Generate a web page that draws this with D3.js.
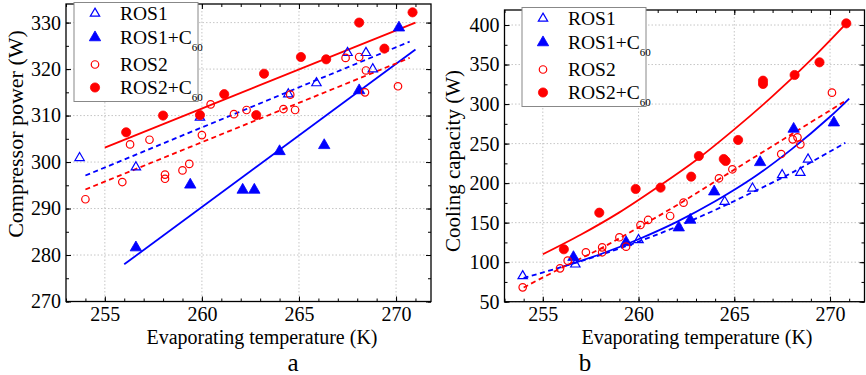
<!DOCTYPE html>
<html>
<head>
<meta charset="utf-8">
<script src="https://cdn.jsdelivr.net/npm/d3@7"></script>
<style>
  body { margin: 0; background: #fff; }
  svg text { font-family: "Liberation Serif", "Times New Roman", Times, "DejaVu Serif", serif !important; }
</style>
</head>
<body>
<svg id="chart" width="866" height="375"></svg>
<script>
// data, [temperature K, value W]

const tempTicks = [255, 260, 265, 270]
const powerTicks = [270, 280, 290, 300, 310, 320, 330]
const capacityTicks = [50, 100, 150, 200, 250, 300, 350, 400]

// panel a - compressor power
const powerRos1 = [[253.7, 300.9], [256.6, 298.9], [259.9, 309.6], [264.45, 314.6], [265.9, 317], [267.5, 323.5], [268.45, 323.5], [268.8, 320]]
const powerRos1C = [[256.6, 281.6], [259.4, 295.1], [262.1, 294], [262.7, 294], [264, 302.3], [266.3, 303.6], [268.1, 315.4], [270.15, 328.9]]
const powerRos2 = [[254, 292], [255.9, 295.7], [256.3, 303.8], [257.3, 304.8], [258.1, 297.3], [258.1, 296.4], [259, 298.2], [259.35, 299.6], [260, 305.8], [260.45, 312.4], [261.65, 310.3], [262.3, 311.2], [264.2, 311.4], [264.55, 314.5], [264.8, 311.2], [267.4, 322.4], [268.1, 322.6], [268.4, 315], [268.45, 319.7], [270.1, 316.3]]
const powerRos2C = [[256.1, 306.4], [258, 310], [259.9, 310.1], [261.15, 314.6], [262.8, 310.1], [263.2, 319], [265.1, 322.6], [266.4, 322.1], [268.1, 330], [269.4, 324.4], [270.85, 332.2]]

const powerFitRos1 = [[254, 297.1], [270.7, 325.9]]
const powerFitRos1C = [[256, 278], [271, 324.2]]
const powerFitRos2 = [[254, 294.1], [270.7, 322.4]]
const powerFitRos2C = [[255, 303.1], [271, 330]]

// panel b - cooling capacity
const capRos1 = [[253.95, 82.5], [256.7, 97.3], [260, 128.1], [264.5, 176.6], [265.95, 193.4], [267.5, 210.3], [268.45, 213.2], [268.85, 230.1]]
const capRos1C = [[256.6, 106.2], [259.35, 125.1], [262.1, 143.7], [262.7, 153.4], [263.95, 189.2], [266.35, 226.3], [268.1, 268.5], [270.2, 276.5]]
const capRos2 = [[253.95, 68.2], [255.9, 92.2], [256.3, 101.9], [257.25, 112.5], [258.1, 118.8], [258.1, 112.5], [259, 131.5], [259.35, 119.6], [260.1, 147], [260.5, 153.4], [261.65, 158.4], [262.35, 175.3], [264.2, 206.1], [264.9, 217.5], [267.45, 236.8], [268.05, 255.4], [268.3, 257.9], [268.45, 249.1], [270.1, 314.4]]
const capRos2C = [[256.1, 116.3], [257.95, 162.6], [259.85, 192.6], [261.15, 194.3], [262.75, 208.2], [263.15, 234.3], [264.45, 230.5], [264.55, 228], [265.2, 254.6], [266.5, 329.6], [266.5, 325.4], [268.15, 336.8], [269.45, 352.8], [270.85, 402.1]]

const capFitRos1 = [[254, 80], [256, 94], [258, 109], [260, 126], [262, 145], [264, 166], [266, 189], [268, 213], [270, 240], [270.8, 251]]
const capFitRos1C = [[256, 94], [258, 110], [260, 129], [262, 151], [264, 177], [266, 207], [268, 243], [270, 284], [271, 307]]
const capFitRos2 = [[254, 68], [256, 93], [258, 117], [260, 144], [262, 172], [264, 202], [266, 232], [268, 262], [270, 292], [270.8, 304]]
const capFitRos2C = [[255, 110], [257, 135], [259, 163], [261, 195], [263, 229], [265, 268], [267, 310], [269, 356], [271, 406]]

const seriesNames = ['ROS1', 'ROS1+C', 'ROS2', 'ROS2+C']

const BLUE = '#0000ff'
const RED = '#ff0000'
const SERIF = '"Liberation Serif", "Times New Roman", Times, "DejaVu Serif", serif'

// marker look per series: open/filled triangle, open/filled circle
const styles = [
  { color: BLUE, type: d3.symbolTriangle, size: 38, filled: false, dash: '5,3.5', sub: false },
  { color: BLUE, type: d3.symbolTriangle, size: 56, filled: true, dash: null, sub: true },
  { color: RED, type: d3.symbolCircle, size: 44, filled: false, dash: '5,3.5', sub: false },
  { color: RED, type: d3.symbolCircle, size: 66, filled: true, dash: null, sub: true },
]

const svg = d3.select('#chart')

function drawPanel(p) {
  const x = d3.scaleLinear().domain([253, 271.8]).range([p.left, p.right])
  const y = d3.scaleLinear().domain(p.yDomain).range([p.bottom, p.top])
  const w = p.right - p.left
  const h = p.bottom - p.top

  const g = svg.append('g')

  // dotted grid
  g.append('g')
    .selectAll('line')
    .data(tempTicks)
    .join('line')
    .attr('x1', d => x(d)).attr('x2', d => x(d))
    .attr('y1', p.top).attr('y2', p.bottom)
    .attr('stroke', '#b8b8b8').attr('stroke-width', 0.8).attr('stroke-dasharray', '1.5,2')
  g.append('g')
    .selectAll('line')
    .data(p.yTicks)
    .join('line')
    .attr('x1', p.left).attr('x2', p.right)
    .attr('y1', d => y(d)).attr('y2', d => y(d))
    .attr('stroke', '#b8b8b8').attr('stroke-width', 0.8).attr('stroke-dasharray', '1.5,2')

  // fit lines
  const line = d3.line().x(d => x(d[0])).y(d => y(d[1])).curve(d3.curveCatmullRom)
  p.fits.forEach((f, i) => {
    g.append('path')
      .attr('d', line(f))
      .attr('fill', 'none')
      .attr('stroke', styles[i].color)
      .attr('stroke-width', 1.8)
      .attr('stroke-dasharray', styles[i].dash)
  })

  // markers
  p.series.forEach((s, i) => {
    const st = styles[i]
    g.append('g')
      .selectAll('path')
      .data(s)
      .join('path')
      .attr('transform', d => `translate(${x(d[0])},${y(d[1])})`)
      .attr('d', d3.symbol().type(st.type).size(st.size))
      .attr('fill', st.filled ? st.color : 'none')
      .attr('stroke', st.color)
      .attr('stroke-width', st.filled ? 0.8 : 1.2)
  })

  // axes, ticks pointing inward
  const minorX = d3.range(253, 272, 1)
  const minorY = d3.range(p.yDomain[0], p.yDomain[1], p.minorStep)

  const axisStyle = sel => {
    sel.attr('font-family', SERIF)
    sel.select('.domain').remove()
    sel.selectAll('line').attr('stroke', '#000').attr('stroke-width', 1)
    sel.selectAll('text').style('font-family', SERIF).attr('font-size', 20).attr('fill', '#000')
  }

  g.append('g').attr('transform', `translate(0,${p.bottom})`)
    .call(d3.axisBottom(x).tickValues(tempTicks).tickSize(-5).tickPadding(5).tickFormat(d3.format('d')))
    .call(axisStyle)
  g.append('g').attr('transform', `translate(0,${p.bottom})`)
    .call(d3.axisBottom(x).tickValues(minorX).tickSize(-3).tickFormat(''))
    .call(axisStyle)
  g.append('g').attr('transform', `translate(0,${p.top})`)
    .call(d3.axisTop(x).tickValues(tempTicks).tickSize(-5).tickFormat(''))
    .call(axisStyle)
  g.append('g').attr('transform', `translate(0,${p.top})`)
    .call(d3.axisTop(x).tickValues(minorX).tickSize(-3).tickFormat(''))
    .call(axisStyle)

  g.append('g').attr('transform', `translate(${p.left},0)`)
    .call(d3.axisLeft(y).tickValues(p.yTicks).tickSize(-5).tickPadding(5).tickFormat(d3.format('d')))
    .call(axisStyle)
  g.append('g').attr('transform', `translate(${p.left},0)`)
    .call(d3.axisLeft(y).tickValues(minorY).tickSize(-3).tickFormat(''))
    .call(axisStyle)
  g.append('g').attr('transform', `translate(${p.right},0)`)
    .call(d3.axisRight(y).tickValues(p.yTicks).tickSize(-5).tickFormat(''))
    .call(axisStyle)
  g.append('g').attr('transform', `translate(${p.right},0)`)
    .call(d3.axisRight(y).tickValues(minorY).tickSize(-3).tickFormat(''))
    .call(axisStyle)

  // frame
  g.append('rect')
    .attr('x', p.left).attr('y', p.top)
    .attr('width', w).attr('height', h)
    .attr('fill', 'none').attr('stroke', '#000').attr('stroke-width', 1.3)

  // axis titles
  g.append('text')
    .attr('x', p.xTitleX).attr('y', 344)
    .attr('text-anchor', 'middle').attr('font-size', 20)
    .style('font-family', SERIF)
    .text('Evaporating temperature (K)')
  g.append('text')
    .attr('transform', `translate(${p.yTitleX},${p.yTitleY}) rotate(-90)`)
    .attr('text-anchor', 'middle').attr('font-size', p.yTitleSize)
    .style('font-family', SERIF)
    .text(p.yTitle)
  g.append('text')
    .attr('x', p.letterX).attr('y', 371)
    .attr('text-anchor', 'middle').attr('font-size', 25)
    .style('font-family', SERIF)
    .text(p.letter)

  // legend
  const lg = g.append('g').attr('transform', `translate(${p.legend[0]},${p.legend[1]})`)
  lg.append('rect')
    .attr('width', 124).attr('height', 99)
    .attr('fill', '#fff').attr('stroke', '#888').attr('stroke-width', 1)
  const rowY = [11, 35, 62, 85]
  seriesNames.forEach((name, i) => {
    const st = styles[i]
    lg.append('path')
      .attr('transform', `translate(21,${rowY[i]})`)
      .attr('d', d3.symbol().type(st.type).size(st.size))
      .attr('fill', st.filled ? st.color : 'none')
      .attr('stroke', st.color)
      .attr('stroke-width', st.filled ? 0.8 : 1.2)
    const t = lg.append('text')
      .attr('x', 46).attr('y', rowY[i] + 6.5)
      .attr('font-size', 19.5)
      .style('font-family', SERIF)
    t.append('tspan').text(name)
    if (st.sub) {
      t.append('tspan').attr('font-size', 11).attr('dy', 7).text('60')
    }
  })
}

drawPanel({
  left: 66, right: 431, top: 4, bottom: 301.5,
  yDomain: [270, 334], yTicks: powerTicks, minorStep: 5,
  series: [powerRos1, powerRos1C, powerRos2, powerRos2C],
  fits: [powerFitRos1, powerFitRos1C, powerFitRos2, powerFitRos2C],
  yTitle: 'Compressor power (W)', yTitleX: 23, yTitleY: 134, yTitleSize: 22,
  xTitleX: 262,
  letter: 'a', letterX: 293,
  legend: [74, 2.5],
})

drawPanel({
  left: 504.5, right: 864.5, top: 10, bottom: 301.7,
  yDomain: [50, 419], yTicks: capacityTicks, minorStep: 25,
  series: [capRos1, capRos1C, capRos2, capRos2C],
  fits: [capFitRos1, capFitRos1C, capFitRos2, capFitRos2C],
  yTitle: 'Cooling capacity (W)', yTitleX: 460, yTitleY: 161, yTitleSize: 21,
  xTitleX: 697,
  letter: 'b', letterX: 585,
  legend: [522, 7.5],
})
</script>
</body>
</html>
